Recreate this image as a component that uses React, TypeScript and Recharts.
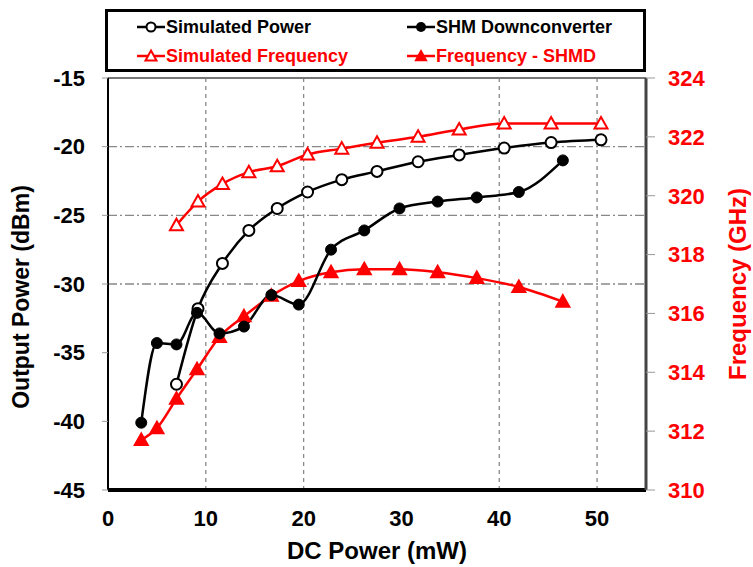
import React from 'react';
import { LineChart, Line, XAxis, YAxis, ReferenceLine, Legend } from 'recharts';

// DC power (mW) for each series
const simX = [7, 9.2, 11.7, 14.4, 17.3, 20.4, 23.9, 27.5, 31.7, 35.9, 40.5, 45.3, 50.4];
const shmX = [3.4, 5.0, 7.0, 9.1, 11.4, 13.9, 16.7, 19.5, 22.8, 26.2, 29.8, 33.7, 37.7, 42.0, 46.5];

// output power (dBm)
const simPower = [-37.3, -31.8, -28.5, -26.1, -24.5, -23.3, -22.4, -21.8, -21.1, -20.6, -20.1, -19.7, -19.5];
const shmPower = [-40.1, -34.3, -34.4, -32.1, -33.6, -33.1, -30.8, -31.5, -27.5, -26.1, -24.5, -24.0, -23.7, -23.3, -21.0];

// frequency (GHz)
const simFreq = [319.0, 319.8, 320.4, 320.8, 321.0, 321.4, 321.6, 321.8, 322.0, 322.25, 322.45, 322.45, 322.45];
const shmFreq = [311.7, 312.1, 313.1, 314.1, 315.2, 315.9, 316.6, 317.1, 317.4, 317.5, 317.5, 317.4, 317.2, 316.9, 316.4];

const xTicks = [0, 10, 20, 30, 40, 50];
const powerTicks = [-45, -40, -35, -30, -25, -20, -15];
const freqTicks = [310, 312, 314, 316, 318, 320, 322, 324];
const xGrid = [10, 20, 40, 50];
const yGrid = [-20, -25, -30];

const toPoints = (xs: number[], ys: number[]) => xs.map((x, i) => ({ x, y: ys[i] }));

const simPowerData = toPoints(simX, simPower);
const shmPowerData = toPoints(shmX, shmPower);
const simFreqData = toPoints(simX, simFreq);
const shmFreqData = toPoints(shmX, shmFreq);

const FONT = '"Liberation Sans", Arial, sans-serif';
const RED = '#ff0000';

const Triangle = ({ cx, cy, filled }: any) => {
  if (cx == null || cy == null) return null;
  return (
    <path
      d={`M${cx},${cy - 6.5} L${cx + 6.5},${cy + 5} L${cx - 6.5},${cy + 5} Z`}
      fill={filled ? RED : '#fff'}
      stroke={RED}
      strokeWidth={2}
    />
  );
};

const legendItems = [
  { name: 'Simulated Power', color: '#000', kind: 'openCircle', col: 0, row: 0 },
  { name: 'SHM Downconverter', color: '#000', kind: 'circle', col: 1, row: 0 },
  { name: 'Simulated Frequency', color: RED, kind: 'openTri', col: 0, row: 1 },
  { name: 'Frequency - SHMD', color: RED, kind: 'tri', col: 1, row: 1 },
];

const LegendIcon = ({ kind, color }: { kind: string; color: string }) => (
  <svg width={28} height={16} style={{ display: 'block' }}>
    <line x1={0} y1={8} x2={28} y2={8} stroke={color} strokeWidth={2.5} />
    {kind === 'openCircle' && <circle cx={14} cy={8} r={4.5} fill="#fff" stroke={color} strokeWidth={2} />}
    {kind === 'circle' && <circle cx={14} cy={8} r={5} fill={color} />}
    {kind === 'openTri' && <path d="M14,2.5 L19.5,12.5 L8.5,12.5 Z" fill="#fff" stroke={color} strokeWidth={2} />}
    {kind === 'tri' && <path d="M14,2.5 L19.5,12.5 L8.5,12.5 Z" fill={color} stroke={color} strokeWidth={1.5} />}
  </svg>
);

const BoxLegend = () => (
  <div
    style={{
      position: 'relative',
      width: 541,
      height: 63,
      border: '3px solid #000',
      boxSizing: 'border-box',
      background: '#fff',
      fontFamily: FONT,
      fontWeight: 'bold',
      fontSize: 18,
      lineHeight: '21px',
    }}
  >
    {legendItems.map((it) => (
      <div
        key={it.name}
        style={{
          position: 'absolute',
          left: it.col === 0 ? 29 : 299,
          top: it.row === 0 ? 4.5 : 33.5,
          display: 'flex',
          alignItems: 'center',
          color: it.color,
          whiteSpace: 'nowrap',
        }}
      >
        <LegendIcon kind={it.kind} color={it.color} />
        <span style={{ marginLeft: 1 }}>{it.name}</span>
      </div>
    ))}
  </div>
);

const tickStyle = { fontFamily: FONT, fontWeight: 'bold' as const, fontSize: 22 };

export default function App() {
  return (
    <div style={{ position: 'absolute', left: 0, top: 0, width: 753, height: 567, background: '#fff' }}>
      <LineChart width={753} height={567} margin={{ top: 78, right: 0, bottom: 0, left: 0 }}>
        <XAxis
          type="number"
          dataKey="x"
          domain={[0, 55]}
          ticks={xTicks}
          height={77}
          tickLine={false}
          tickMargin={14}
          axisLine={{ stroke: '#000', strokeWidth: 4 }}
          tick={{ ...tickStyle, fill: '#000' }}
          allowDuplicatedCategory={false}
          label={{ value: 'DC Power (mW)', position: 'center', dy: 22, style: { ...tickStyle, fontSize: 24, fill: '#000' } }}
        />
        <YAxis
          yAxisId="left"
          type="number"
          domain={[-45, -15]}
          ticks={powerTicks}
          width={108}
          tickSize={6}
          tickMargin={17}
          tickLine={{ stroke: '#999' }}
          axisLine={{ stroke: '#000', strokeWidth: 2 }}
          tick={{ ...tickStyle, fill: '#000' }}
          label={{ value: 'Output Power (dBm)', angle: -90, position: 'center', dx: -33, dy: 13, style: { ...tickStyle, fontSize: 23, fill: '#000' } }}
        />
        <YAxis
          yAxisId="right"
          orientation="right"
          type="number"
          domain={[310, 324]}
          ticks={freqTicks}
          width={107}
          tickSize={9}
          tickMargin={13}
          tickLine={{ stroke: '#999' }}
          axisLine={{ stroke: '#444', strokeWidth: 3 }}
          tick={{ ...tickStyle, fill: RED }}
          label={{ value: 'Frequency (GHz)', angle: -90, position: 'center', dx: 38, style: { ...tickStyle, fontSize: 24, fill: RED } }}
        />
        {xGrid.map((v) => (
          <ReferenceLine key={`xg${v}`} x={v} yAxisId="left" stroke="#888" strokeWidth={1.3} strokeDasharray="4 4" />
        ))}
        {yGrid.map((v) => (
          <ReferenceLine key={`yg${v}`} y={v} yAxisId="left" stroke="#888" strokeWidth={1.3} strokeDasharray="9 3 2 3" />
        ))}
        <ReferenceLine y={-15} yAxisId="left" stroke="#777" strokeWidth={2} />
        <Legend
          layout="vertical"
          align="center"
          verticalAlign="middle"
          wrapperStyle={{ left: 105, top: 9, width: 541, height: 63 }}
          content={() => <BoxLegend />}
        />
        <Line
          yAxisId="right"
          data={simFreqData}
          dataKey="y"
          name="Simulated Frequency"
          type="monotone"
          stroke={RED}
          strokeWidth={2.5}
          isAnimationActive={false}
          dot={(p: any) => <Triangle key={`sf${p.index}`} cx={p.cx} cy={p.cy} filled={false} />}
        />
        <Line
          yAxisId="right"
          data={shmFreqData}
          dataKey="y"
          name="Frequency - SHMD"
          type="monotone"
          stroke={RED}
          strokeWidth={2.5}
          isAnimationActive={false}
          dot={(p: any) => <Triangle key={`hf${p.index}`} cx={p.cx} cy={p.cy} filled />}
        />
        <Line
          yAxisId="left"
          data={simPowerData}
          dataKey="y"
          name="Simulated Power"
          type="monotone"
          stroke="#000"
          strokeWidth={2.5}
          isAnimationActive={false}
          dot={{ r: 5.5, fill: '#fff', stroke: '#000', strokeWidth: 2 }}
        />
        <Line
          yAxisId="left"
          data={shmPowerData}
          dataKey="y"
          name="SHM Downconverter"
          type="monotone"
          stroke="#000"
          strokeWidth={2.5}
          isAnimationActive={false}
          dot={{ r: 5.5, fill: '#000', stroke: '#000', strokeWidth: 1 }}
        />
      </LineChart>
    </div>
  );
}
